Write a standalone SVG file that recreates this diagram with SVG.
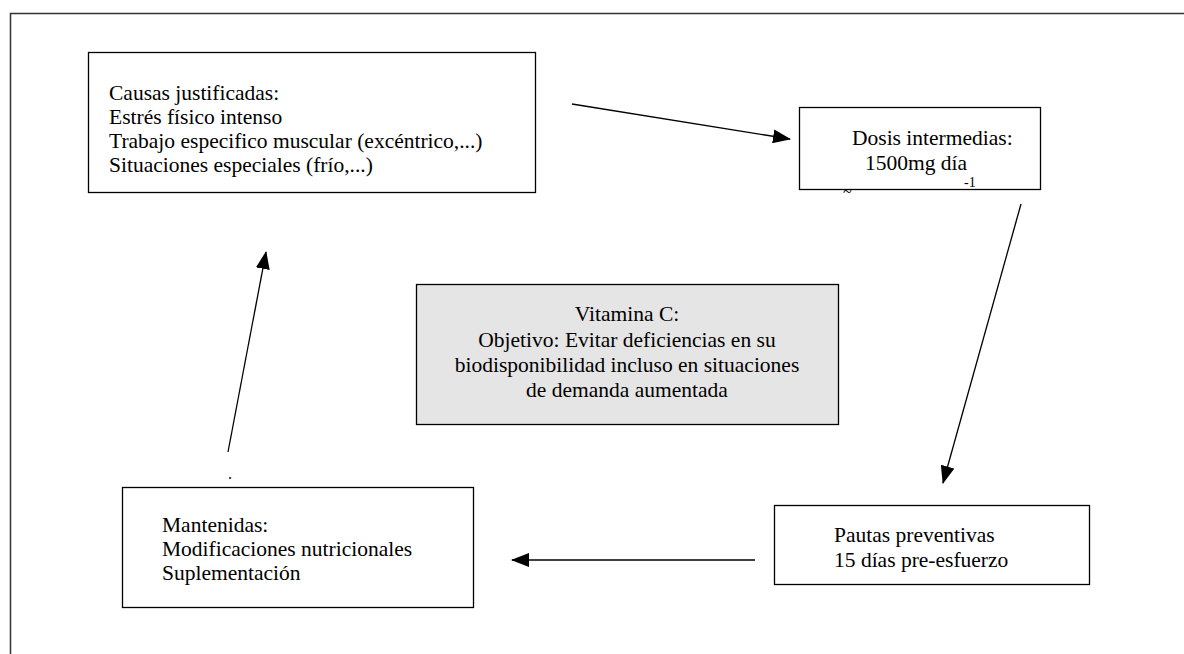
<svg xmlns="http://www.w3.org/2000/svg" width="1184" height="654" viewBox="0 0 1184 654">
<style>
text{font-family:"Liberation Serif","Times New Roman",serif;font-size:21.5px;fill:#000}
.box{fill:#fff;stroke:#000;stroke-width:1.3}
.grey{fill:#e5e5e5;stroke:#000;stroke-width:1.3}
.conn{stroke:#000;stroke-width:1.3;fill:none}
.c{text-anchor:middle}
</style>
<defs>
<marker id="ah" markerWidth="18" markerHeight="14" refX="17" refY="7" orient="auto" markerUnits="userSpaceOnUse">
<path d="M0,0 L18,7 L0,14 Z" fill="#000"/>
</marker>
</defs>
<rect width="1184" height="654" fill="#fff"/>
<path d="M10.5,654 L10.5,13.5 L1184,13.5" fill="none" stroke="#333" stroke-width="1.5"/>
<g id="n-causas">
<rect class="box" x="88.5" y="52.5" width="447" height="140"/>
<text x="109" y="100"><tspan x="109" y="100">Causas justificadas:</tspan><tspan x="109" y="124">Estrés físico intenso</tspan><tspan x="109" y="148">Trabajo especifico muscular (excéntrico,...)</tspan><tspan x="109" y="172">Situaciones especiales (frío,...)</tspan></text>
</g>
<g id="n-dosis">
<rect class="box" x="799.5" y="107.5" width="241" height="82"/>
<text x="852" y="145"><tspan x="852" y="145">Dosis intermedias:</tspan><tspan x="865" y="170">1500mg día</tspan></text>
<text x="843" y="197" style="font-size:16px">~</text>
<text x="964" y="187" style="font-size:14px">-1</text>
</g>
<g id="n-vitamina">
<rect class="grey" x="416.5" y="284.5" width="422" height="140"/>
<text class="c" x="627" y="321"><tspan x="627" y="321">Vitamina C:</tspan><tspan x="627" y="347">Objetivo: Evitar deficiencias en su</tspan><tspan x="627" y="372">biodisponibilidad incluso en situaciones</tspan><tspan x="627" y="397">de demanda aumentada</tspan></text>
</g>
<g id="n-pautas">
<rect class="box" x="774.5" y="505.5" width="315" height="79"/>
<text x="834" y="542"><tspan x="834" y="542">Pautas preventivas</tspan><tspan x="834" y="567">15 días pre-esfuerzo</tspan></text>
</g>
<g id="n-mantenidas">
<rect class="box" x="122.5" y="487.5" width="351" height="120"/>
<text x="162" y="532"><tspan x="162" y="532">Mantenidas:</tspan><tspan x="162" y="556">Modificaciones nutricionales</tspan><tspan x="162" y="580">Suplementación</tspan></text>
<text x="228" y="479" style="font-size:16px">.</text>
</g>
<g id="connectors">
<line class="conn" x1="572" y1="104" x2="790" y2="139" marker-end="url(#ah)"/>
<line class="conn" x1="1021" y1="204" x2="943" y2="483" marker-end="url(#ah)"/>
<line class="conn" x1="755" y1="560" x2="512" y2="560" marker-end="url(#ah)"/>
<line class="conn" x1="228" y1="452" x2="266" y2="252" marker-end="url(#ah)"/>
</g>
</svg>
